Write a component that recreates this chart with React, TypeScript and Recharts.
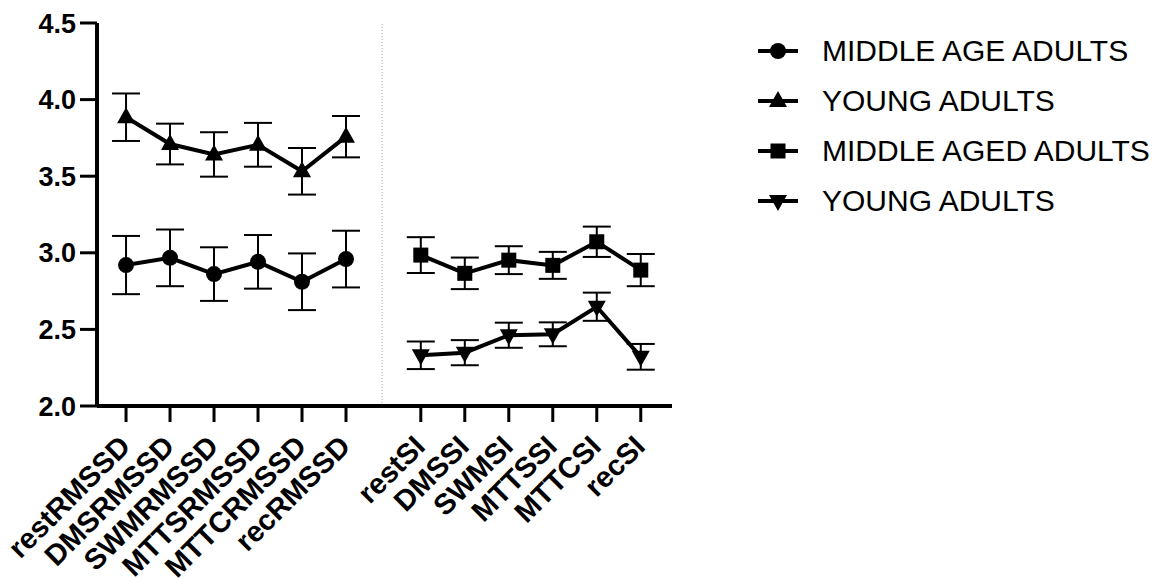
import React from "react";
import { LineChart, Line, XAxis, YAxis, ErrorBar, ReferenceLine, Legend } from "recharts";

const rmssdLabels = ["restRMSSD", "DMSRMSSD", "SWMRMSSD", "MTTSRMSSD", "MTTCRMSSD", "recRMSSD"];
const siLabels = ["restSI", "DMSSI", "SWMSI", "MTTSSI", "MTTCSI", "recSI"];

const midRmssd = [2.92, 2.967, 2.861, 2.941, 2.811, 2.959];
const midRmssdErr = [0.19, 0.185, 0.175, 0.175, 0.185, 0.185];
const youngRmssd = [3.885, 3.71, 3.642, 3.705, 3.532, 3.758];
const youngRmssdErr = [0.155, 0.133, 0.145, 0.143, 0.152, 0.135];

const midSi = [2.985, 2.866, 2.952, 2.918, 3.072, 2.887];
const midSiErr = [0.117, 0.103, 0.091, 0.088, 0.099, 0.105];
const youngSi = [2.331, 2.348, 2.462, 2.468, 2.648, 2.321];
const youngSiErr = [0.09, 0.082, 0.082, 0.078, 0.092, 0.084];

const yTicks = [2.0, 2.5, 3.0, 3.5, 4.0, 4.5];

const GAP = 0.7; // extra space between the two groups
const labels = [...rmssdLabels, ...siLabels];
const xPos = labels.map((_, i) => (i < rmssdLabels.length ? i : i + GAP));

const rows = (vals: number[], errs: number[], offset: number) =>
  vals.map((v, i) => ({ x: xPos[offset + i], v, e: errs[i] }));

const midRmssdData = rows(midRmssd, midRmssdErr, 0);
const youngRmssdData = rows(youngRmssd, youngRmssdErr, 0);
const midSiData = rows(midSi, midSiErr, 6);
const youngSiData = rows(youngSi, youngSiErr, 6);

const FONT = "'Liberation Sans', Arial, sans-serif";

const Marker = ({ kind, cx, cy }: { kind: string; cx: number; cy: number }) => {
  if (kind === "circle") return <circle cx={cx} cy={cy} r={8} fill="#000" />;
  if (kind === "square") return <rect x={cx - 7.5} y={cy - 7.5} width={15} height={15} fill="#000" />;
  if (kind === "up")
    return <polygon points={`${cx},${cy - 10} ${cx + 9},${cy + 6} ${cx - 9},${cy + 6}`} fill="#000" />;
  return <polygon points={`${cx},${cy + 10} ${cx + 9},${cy - 6} ${cx - 9},${cy - 6}`} fill="#000" />;
};

const dotFor = (kind: string) => (p: any) =>
  <Marker key={`${kind}-${p.index}`} kind={kind} cx={p.cx} cy={p.cy} />;

const legendItems = [
  { name: "MIDDLE AGE ADULTS", kind: "circle" },
  { name: "YOUNG ADULTS", kind: "up" },
  { name: "MIDDLE AGED ADULTS", kind: "square" },
  { name: "YOUNG ADULTS", kind: "down" },
];

const LegendContent = () => (
  <div style={{ fontFamily: FONT }}>
    {legendItems.map((it, i) => (
      <div key={i} style={{ display: "flex", alignItems: "center", height: 50 }}>
        <svg width={44} height={24} style={{ marginRight: 22 }}>
          <line x1={2} y1={12} x2={42} y2={12} stroke="#000" strokeWidth={4} />
          <Marker kind={it.kind} cx={22} cy={12} />
        </svg>
        <span style={{ fontSize: 30, color: "#000" }}>{it.name}</span>
      </div>
    ))}
  </div>
);

const XTick = ({ x, y, payload }: any) => {
  const idx = xPos.findIndex((p) => Math.abs(p - payload.value) < 1e-6);
  return (
    <g transform={`translate(${x + 6},${y + 24})`}>
      <text textAnchor="end" transform="rotate(-45)" fontSize={29} fontWeight="bold" fontFamily={FONT} fill="#000">
        {labels[idx]}
      </text>
    </g>
  );
};

export default function App() {
  return (
    <LineChart width={1150} height={570} margin={{ top: 15, right: 486, bottom: 12, left: 0 }}>
      <XAxis
        type="number"
        dataKey="x"
        domain={[-0.66, 12.41]}
        ticks={xPos}
        interval={0}
        tick={<XTick />}
        tickSize={16}
        tickLine={{ stroke: "#000", strokeWidth: 3 }}
        axisLine={{ stroke: "#000", strokeWidth: 4 }}
        height={160}
        allowDataOverflow
      />
      <YAxis
        type="number"
        domain={[2, 4.5]}
        ticks={yTicks}
        tickFormatter={(v: number) => v.toFixed(1)}
        width={89}
        tickSize={17}
        tickMargin={4}
        tick={{ fontSize: 27, fontWeight: "bold", fill: "#000", fontFamily: FONT }}
        tickLine={{ stroke: "#000", strokeWidth: 3 }}
        axisLine={{ stroke: "#000", strokeWidth: 4 }}
        allowDataOverflow
      />
      <ReferenceLine x={5.82} stroke="#aaa" strokeDasharray="1 2" strokeWidth={1} />
      <Legend
        layout="vertical"
        align="center"
        verticalAlign="middle"
        content={<LegendContent />}
        wrapperStyle={{ left: 748, top: 18, width: 400, height: 210 }}
      />
      <Line data={midRmssdData} dataKey="v" name="MIDDLE AGE ADULTS" stroke="#000" strokeWidth={4}
        dot={dotFor("circle")} isAnimationActive={false}>
        <ErrorBar dataKey="e" direction="y" width={14} stroke="#000" strokeWidth={2} />
      </Line>
      <Line data={youngRmssdData} dataKey="v" name="YOUNG ADULTS" stroke="#000" strokeWidth={4}
        dot={dotFor("up")} isAnimationActive={false}>
        <ErrorBar dataKey="e" direction="y" width={14} stroke="#000" strokeWidth={2} />
      </Line>
      <Line data={midSiData} dataKey="v" name="MIDDLE AGED ADULTS" stroke="#000" strokeWidth={4}
        dot={dotFor("square")} isAnimationActive={false}>
        <ErrorBar dataKey="e" direction="y" width={14} stroke="#000" strokeWidth={2} />
      </Line>
      <Line data={youngSiData} dataKey="v" name="YOUNG ADULTS" stroke="#000" strokeWidth={4}
        dot={dotFor("down")} isAnimationActive={false}>
        <ErrorBar dataKey="e" direction="y" width={14} stroke="#000" strokeWidth={2} />
      </Line>
    </LineChart>
  );
}
